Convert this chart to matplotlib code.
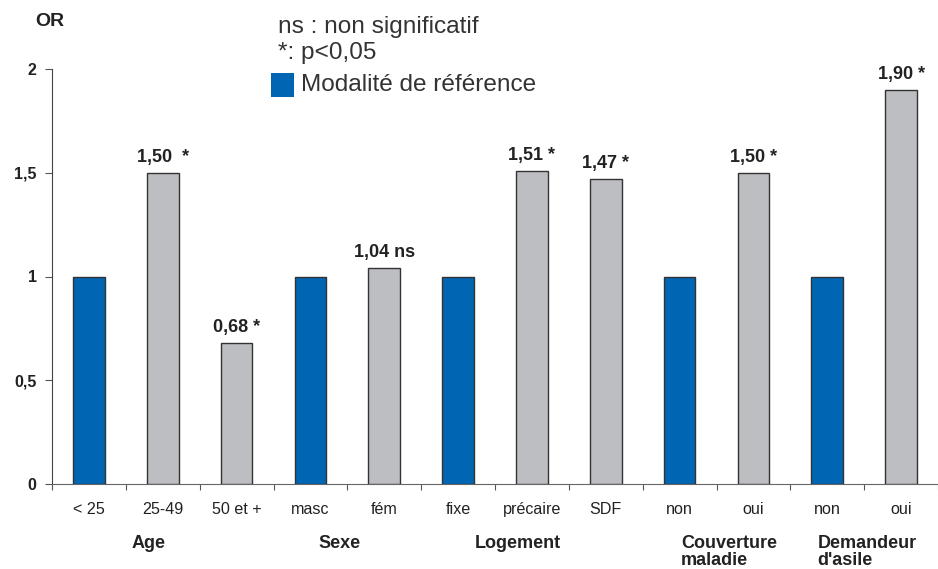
import matplotlib
matplotlib.use("Agg")
import matplotlib.pyplot as plt
from matplotlib.patches import Rectangle

plt.rcParams['font.family'] = ['Liberation Sans', 'DejaVu Sans']

categories = ["< 25", "25-49", "50 et +", "masc", "fém", "fixe", "précaire", "SDF",
              "non", "oui", "non", "oui"]
values = [1.0, 1.50, 0.68, 1.0, 1.04, 1.0, 1.51, 1.47, 1.0, 1.50, 1.0, 1.90]
is_reference = [True, False, False, True, False, True, False, False, True, False, True, False]
value_labels = ["", "1,50  *", "0,68 *", "", "1,04 ns", "", "1,51 *", "1,47 *", "", "1,50 *", "", "1,90 *"]
groups = ["Age", "Sexe", "Logement", "Couverture\nmaladie", "Demandeur\nd'asile"]
group_x = [0.58, 3.11, 5.22, 8.02, 9.87]
yticks = [0, 0.5, 1, 1.5, 2]
ytick_labels = ["0", "0,5", "1", "1,5", "2"]

BLUE = "#0066b3"
GREY = "#bdbec1"
EDGE = "#333333"

fig = plt.figure(figsize=(9.38, 5.69), dpi=100)
ax = fig.add_axes([52/938, 1-484/569, 1-52/938, (484-69)/569])

x = list(range(len(categories)))
colors = [BLUE if r else GREY for r in is_reference]
ax.bar(x, values, width=0.43, color=colors, edgecolor=EDGE, linewidth=1.0, zorder=3)

for xi, v, lab in zip(x, values, value_labels):
    if lab:
        ax.annotate(lab, (xi, v), xytext=(0, 5), textcoords="offset points",
                    ha="center", va="bottom", fontsize=13, fontweight="bold", color="#222222")

ax.set_xlim(-0.5, 11.43)
ax.set_ylim(0, 2)
ax.set_yticks(yticks)
ax.set_yticklabels(ytick_labels, fontsize=11.5, fontweight="bold", color="#222222")
ax.set_xticks([i + 0.5 for i in range(-1, 12)])
ax.set_xticklabels([])
ax.tick_params(axis="x", direction="out", length=4, color="#555555")
ax.tick_params(axis="y", direction="out", length=5, color="#555555", pad=6)

for xi, c in zip(x, categories):
    ax.text(xi, -0.125, c, ha="center", va="center", fontsize=11.6, color="#222222")

for gx, g in zip(group_x, groups):
    ax.text(gx, -0.245, g, ha="left", va="top", fontsize=13, fontweight="bold",
            color="#222222", linespacing=1.0)

for s in ["top", "right"]:
    ax.spines[s].set_visible(False)
ax.spines["left"].set_color("#444444")
ax.spines["bottom"].set_color("#666666")

fig.text(35/938, 1-22/569, "OR", ha="left", va="center", fontsize=14, fontweight="bold", color="#222222")
fig.text(278/938, 1-27/569, "ns : non significatif", ha="left", va="center", fontsize=17.6, color="#333333")
fig.text(278/938, 1-53/569, "*: p<0,05", ha="left", va="center", fontsize=17.6, color="#333333")
fig.patches.append(Rectangle((271/938, 1-97/569), 23/938, 24/569, transform=fig.transFigure,
                             facecolor=BLUE, edgecolor="none"))
fig.text(301/938, 1-85/569, "Modalité de référence", ha="left", va="center", fontsize=17.6, color="#333333")

fig.savefig("out.png", dpi=100)
